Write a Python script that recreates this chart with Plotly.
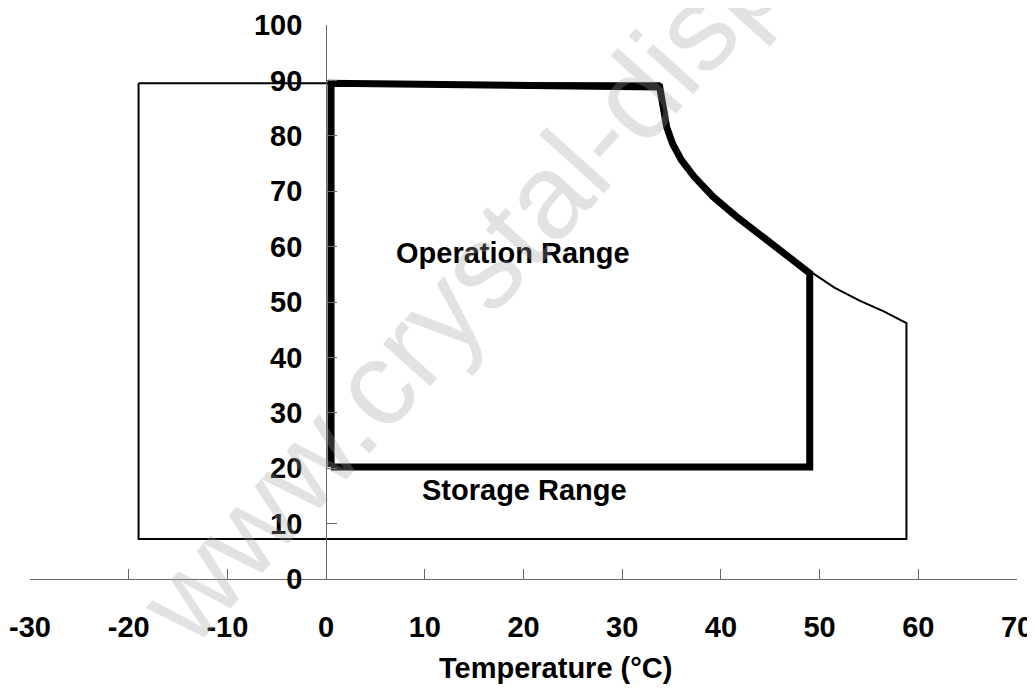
import plotly.graph_objects as go

# Tick values
x_ticks = [-30, -20, -10, 0, 10, 20, 30, 40, 50, 60, 70]
y_ticks = [0, 10, 20, 30, 40, 50, 60, 70, 80, 90, 100]

# Operation range boundary (thick line)
op_x = [0.5, 0.5, 33.8, 34.2, 34.5, 35.1, 36.0, 37.3, 39.2, 41.6, 44.6, 47.3, 49.0, 49.0, 0.5]
op_y = [20.2, 89.5, 88.8, 84.7, 81.6, 78.6, 75.6, 72.6, 69.0, 65.4, 61.2, 57.6, 55.2, 20.2, 20.2]

# Storage range boundary (thin line)
st_x = [-19.0, 33.8, 34.2, 34.5, 35.1, 36.0, 37.3, 39.2, 41.6, 44.6, 47.3, 49.3, 51.5, 54.0, 56.5, 58.8, 58.8, -19.0, -19.0]
st_y = [89.5, 89.5, 84.7, 81.6, 78.6, 75.6, 72.6, 69.0, 65.4, 61.2, 57.6, 55.2, 52.6, 50.3, 48.3, 46.2, 7.2, 7.2, 89.5]

FONT = "Liberation Sans, Arial, sans-serif"

fig = go.Figure()
fig.add_trace(go.Scatter(x=st_x, y=st_y, mode="lines",
                         line=dict(color="black", width=2), hoverinfo="skip", showlegend=False))
fig.add_trace(go.Scatter(x=op_x, y=op_y, mode="lines",
                         line=dict(color="black", width=7), hoverinfo="skip", showlegend=False))

fig.add_annotation(x=18.9, y=58.8, xref="x", yref="y", text="Operation Range", showarrow=False,
                   xanchor="center", yanchor="middle",
                   font=dict(family=FONT, size=29, color="black", weight="bold"))
fig.add_annotation(x=20.1, y=16.1, xref="x", yref="y", text="Storage Range", showarrow=False,
                   xanchor="center", yanchor="middle",
                   font=dict(family=FONT, size=29, color="black", weight="bold"))
fig.add_annotation(x=0.532, y=-0.1606, xref="paper", yref="paper", text="Temperature (°C)",
                   showarrow=False, xanchor="center", yanchor="middle",
                   font=dict(family=FONT, size=29, color="black", weight="bold"))
# watermark
fig.add_annotation(x=0.573, y=0.792, xref="paper", yref="paper", text="www.crystal-display.com",
                   showarrow=False, textangle=-48, xanchor="center", yanchor="middle",
                   font=dict(family=FONT, size=120, color="rgba(160,160,160,0.30)"))

# page body has an 8px default margin; size the figure to fit the 1035x688 window
fig.update_layout(
    width=1027, height=680,
    margin=dict(l=22, r=18, t=17, b=109, autoexpand=False),
    paper_bgcolor="white", plot_bgcolor="white",
    xaxis=dict(range=[-30, 70], tickvals=x_ticks, ticktext=[str(v) for v in x_ticks],
               ticks="inside", ticklen=10, tickcolor="#666", tickwidth=1,
               showline=True, linecolor="#666", linewidth=1, automargin=False,
               showgrid=False, zeroline=False, ticklabelstandoff=22,
               tickfont=dict(family=FONT, size=29, color="black", weight="bold")),
    yaxis=dict(range=[0, 100], tickvals=y_ticks, ticktext=[str(v) for v in y_ticks],
               anchor="free", position=0.3, automargin=False,
               ticks="inside", ticklen=10, tickcolor="#666", tickwidth=1,
               showline=True, linecolor="#666", linewidth=1,
               showgrid=False, zeroline=False, ticklabelstandoff=18,
               tickfont=dict(family=FONT, size=29, color="black", weight="bold")),
)

fig.write_html("out.html")
